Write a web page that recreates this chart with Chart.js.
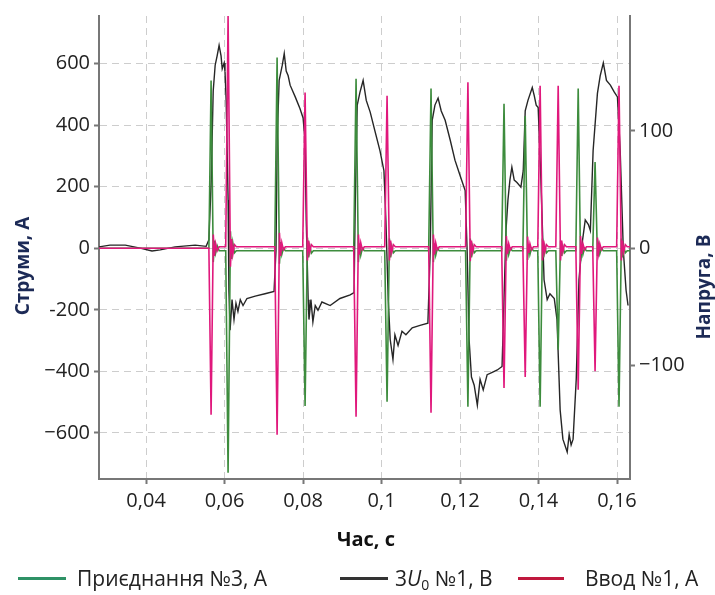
<!DOCTYPE html>
<html>
<head>
<meta charset="utf-8">
<script src="https://cdn.jsdelivr.net/npm/chart.js@4.4.1/dist/chart.umd.min.js"></script>
<style>
  html, body { margin: 0; padding: 0; background: #fff; }
  #wrap { position: relative; width: 715px; height: 595px; overflow: hidden; }
  canvas { position: absolute; left: 0; top: 0; }
  .lg-line { position: absolute; height: 3px; }
  .lg-text { position: absolute; font-family: "Open Sans", sans-serif; font-size: 21px; color: #222; line-height: 24px; white-space: nowrap; }
  .lg-text sub { font-size: 14px; vertical-align: -4px; line-height: 0; }
</style>
</head>
<body>
<div id="wrap">
  <canvas id="c" width="715" height="595"></canvas>
  <div class="lg-line" style="left:18px;top:577px;width:48px;background:#2f9266;"></div>
  <div class="lg-text" style="left:77px;top:566px;">Приєднання №3, А</div>
  <div class="lg-line" style="left:340px;top:577px;width:48px;background:#333;"></div>
  <div class="lg-text" style="left:395px;top:566px;">3<i>U</i><sub>0</sub> №1, В</div>
  <div class="lg-line" style="left:518px;top:577px;width:46px;background:#c0183e;"></div>
  <div class="lg-text" style="left:585px;top:566px;">Ввод №1, А</div>
</div>
<script>
// ---- data (time in s) ----
const seriesNames = ['Ввод №1, А', 'Приєднання №3, А', '3U₀ №1, В'];
const xTickValues = [0.04, 0.06, 0.08, 0.10, 0.12, 0.14, 0.16];
const xTickLabels = ['0,04', '0,06', '0,08', '0,1', '0,12', '0,14', '0,16'];
const leftTickValues = [-600, -400, -200, 0, 200, 400, 600];
const leftTickLabels = ['−600', '−400', '-200', '0', '200', '400', '600'];
const rightTickValues = [-100, 0, 100];
const rightTickLabels = ['−100', '0', '100'];

// currents share one time base
const currentTime = [
  0.028, 0.0550,
  0.05600, 0.05656, 0.05712, 0.05742, 0.05772, 0.05812, 0.05862,
  0.06029, 0.06089, 0.06149, 0.06179, 0.06209, 0.06249, 0.06299,
  0.07278, 0.07338, 0.07398, 0.07428, 0.07458, 0.07498, 0.07548,
  0.07991, 0.08051, 0.08111, 0.08141, 0.08171, 0.08211, 0.08261,
  0.0929, 0.0935, 0.0941, 0.0944, 0.0947, 0.0951, 0.0956,
  0.1008, 0.1014, 0.1020, 0.1023, 0.1026, 0.1030, 0.1035,
  0.1120, 0.1126, 0.1132, 0.1135, 0.1138, 0.1142, 0.1147,
  0.1214, 0.1220, 0.1226, 0.1229, 0.1232, 0.1236, 0.1241,
  0.1306, 0.1312, 0.1318, 0.1321, 0.1324, 0.1328, 0.1333,
  0.1360, 0.1366, 0.1372, 0.1375, 0.1378, 0.1382, 0.1387,
  0.1398, 0.1404, 0.1410, 0.1413, 0.1416, 0.1420, 0.1425,
  0.1444, 0.1450, 0.1456, 0.1459, 0.1462, 0.1466, 0.1471,
  0.1495, 0.1501, 0.1507, 0.1510, 0.1513, 0.1517, 0.1522,
  0.1538, 0.1544, 0.1550, 0.1553, 0.1556, 0.1560, 0.1565,
  0.1599, 0.1605, 0.1611, 0.1614, 0.1617, 0.1621, 0.1626,
  0.1633
];
const inputCurrent = [   // Ввод №1, А
  0, 0,
  0, -541, 45, -25, 15, -8, 5,
  5, 755, -60, 30, -20, 12, 5,
  5, -606, 50, -25, 18, -5, 5,
  5, 506, -40, 25, -12, 12, 5,
  5, -548, 45, -20, 18, -5, 5,
  5, 496, -40, 25, -12, 12, 5,
  5, -535, 45, -20, 18, -5, 5,
  5, 540, -42, 25, -12, 12, 5,
  5, -454, 40, -18, 15, -5, 5,
  5, -418, 38, -15, 15, -5, 5,
  5, 528, -40, 25, -12, 12, 5,
  5, 528, -40, 25, -12, 12, 5,
  5, -460, 40, -18, 15, -5, 5,
  5, -400, 35, -15, 15, -5, 5,
  5, 528, -40, 25, -12, 12, 5,
  5
];
const feederCurrent = [  // Приєднання №3, А
  0, 0,
  0, 545, -45, 25, -15, 8, -8,
  -8, -730, 55, -35, 18, -15, -8,
  -8, 620, -50, 20, -20, 0, -8,
  -8, -513, 35, -30, 8, -16, -8,
  -8, 551, -45, 15, -22, 0, -8,
  -8, -499, 32, -30, 6, -15, -8,
  -8, 519, -45, 15, -22, 0, -8,
  -8, -515, 32, -30, 6, -15, -8,
  -8, 470, -40, 12, -20, 0, -8,
  -8, 430, -38, 12, -20, 0, -8,
  -8, -515, 32, -30, 6, -15, -8,
  -8, -330, 25, -25, 6, -15, -8,
  -8, 519, -42, 12, -20, 0, -8,
  -8, 280, -25, 10, -18, 0, -8,
  -8, -515, 32, -30, 6, -15, -8,
  -8
];

// 3U0 voltage
const voltageTime = [
  0.0280, 0.0308, 0.0347, 0.0385, 0.0415, 0.0436, 0.0474, 0.0525, 0.0553, 0.0560,
  0.0566, 0.0571, 0.0576, 0.0581, 0.0586, 0.0591, 0.0594, 0.0599, 0.0601, 0.0604,
  0.0609, 0.0611, 0.0614, 0.0619, 0.0624, 0.0629, 0.0634, 0.0640, 0.0647, 0.0657,
  0.0678, 0.0703, 0.0726, 0.0731, 0.0734, 0.0739, 0.0747, 0.0752, 0.0757, 0.0762,
  0.0767, 0.0780, 0.0792, 0.0800, 0.0805, 0.0808, 0.0813, 0.0815, 0.0820, 0.0825,
  0.0831, 0.0838, 0.0848, 0.0869, 0.0894, 0.0920, 0.0930, 0.0933, 0.0938, 0.0945,
  0.0953, 0.0961, 0.0971, 0.0983, 0.0996, 0.1006, 0.1011, 0.1017, 0.1022, 0.1029,
  0.1034, 0.1042, 0.1052, 0.1062, 0.1078, 0.1098, 0.1118, 0.1124, 0.1129, 0.1136,
  0.1144, 0.1152, 0.1162, 0.1175, 0.1187, 0.1200, 0.1213, 0.1218, 0.1223, 0.1229,
  0.1236, 0.1244, 0.1251, 0.1259, 0.1269, 0.1282, 0.1295, 0.1307, 0.1312, 0.1317,
  0.1322, 0.1327, 0.1332, 0.1338, 0.1345, 0.1355, 0.1361, 0.1366, 0.1373, 0.1384,
  0.1389, 0.1394, 0.1399, 0.1406, 0.1414, 0.1422, 0.1429, 0.1440, 0.1447, 0.1455,
  0.1462, 0.1473, 0.1478, 0.1483, 0.1488, 0.1496, 0.1503, 0.1511, 0.1519, 0.1527,
  0.1532, 0.1539, 0.1550, 0.1557, 0.1565, 0.1573, 0.1583, 0.1593, 0.1601, 0.1608,
  0.1616, 0.1623, 0.1628
];
const voltage = [
  1, 2.5, 2.5, 0, -2.5, -1.5, 1, 2.5, 1.5, 7,
  58, 134, 156, 164, 173, 164, 153, 158, 151, 126,
  41, -36, -70, -44, -61, -47, -54, -44, -49, -43,
  -41, -39, -37, -2, 92, 143, 156, 166, 151, 147,
  139, 129, 119, 111, 92, 24, -44, -61, -44, -63,
  -49, -53, -46, -49, -43, -40, -38, 41, 122, 133,
  143, 126, 116, 100, 83, 66, 24, -44, -78, -95,
  -74, -83, -71, -74, -68, -66, -64, -2, 109, 122,
  128, 117, 109, 92, 75, 62, 49, -2, -78, -110,
  -117, -134, -112, -121, -108, -106, -104, -101, -44, 15,
  41, 58, 69, 58, 56, 52, 66, 117, 126, 137,
  130, 122, 120, 58, -27, -44, -39, -43, -61, -138,
  -163, -174, -159, -168, -163, -112, -27, 4, 24, 20,
  15, 83, 132, 147, 158, 143, 139, 133, 129, 83,
  -2, -36, -49
];

function toPoints(ts, vs) { return ts.map((t, i) => ({ x: t, y: vs[i] })); }

const titleColor = '#1c2a56';
const tickFont = { family: 'Open Sans', size: 20, weight: '400' };

const axisTitles = {
  id: 'axisTitles',
  afterDraw(chart) {
    const ctx = chart.ctx;
    ctx.save();
    ctx.font = 'bold 19px "Open Sans"';
    ctx.textAlign = 'center';
    ctx.textBaseline = 'middle';
    ctx.fillStyle = titleColor;
    ctx.save(); ctx.translate(24, 266); ctx.rotate(-Math.PI / 2); ctx.fillText('Струми, А', 0, 0); ctx.restore();
    ctx.save(); ctx.translate(705, 287); ctx.rotate(-Math.PI / 2); ctx.fillText('Напруга, В', 0, 0); ctx.restore();
    ctx.font = 'bold 20px "Open Sans"';
    ctx.fillStyle = '#111';
    ctx.fillText('Час, с', 366, 540);
    ctx.restore();
  }
};

const gridDash = [7, 5];

new Chart(document.getElementById('c'), {
  type: 'line',
  data: {
    datasets: [
      { label: seriesNames[0], data: toPoints(currentTime, inputCurrent), yAxisID: 'y', borderColor: '#e0187c', borderWidth: 1.6 },
      { label: seriesNames[1], data: toPoints(currentTime, feederCurrent), yAxisID: 'y', borderColor: '#3d8c3d', borderWidth: 1.6 },
      { label: seriesNames[2], data: toPoints(voltageTime, voltage), yAxisID: 'y2', borderColor: '#262626', borderWidth: 1.4 }
    ]
  },
  options: {
    responsive: false,
    animation: false,
    devicePixelRatio: 1,
    parsing: false,
    elements: { point: { radius: 0 }, line: { tension: 0 } },
    layout: { padding: { top: 15, bottom: 40, left: 0, right: 0 } },
    plugins: { legend: { display: false }, tooltip: { enabled: false } },
    scales: {
      x: {
        type: 'linear', min: 0.028, max: 0.1633,
        afterBuildTicks(s) { s.ticks = xTickValues.map(v => ({ value: v })); },
        afterFit(s) { s.height = 76; },
        ticks: {
          font: tickFont, color: '#222', padding: 5, maxRotation: 0,
          callback(v) { const i = xTickValues.findIndex(t => Math.abs(t - v) < 1e-9); return i >= 0 ? xTickLabels[i] : ''; }
        },
        grid: { color: '#cdcdcd', lineWidth: 1, tickLength: 5, tickColor: '#777', tickWidth: 2, drawTicks: true, borderDash: gridDash },
        border: { display: true, color: '#777', width: 2, dash: gridDash }
      },
      y: {
        position: 'left', min: -750, max: 755,
        afterBuildTicks(s) { s.ticks = leftTickValues.map(v => ({ value: v })); },
        afterFit(s) { s.width = 99; },
        ticks: {
          font: tickFont, color: '#222', padding: 4,
          callback(v) { const i = leftTickValues.indexOf(v); return i >= 0 ? leftTickLabels[i] : ''; }
        },
        grid: { color: '#cdcdcd', lineWidth: 1, tickLength: 5, tickColor: '#777', tickWidth: 2, borderDash: gridDash },
        border: { display: true, color: '#777', width: 2, dash: gridDash }
      },
      y2: {
        position: 'right', min: -197, max: 198,
        afterBuildTicks(s) { s.ticks = rightTickValues.map(v => ({ value: v })); },
        afterFit(s) { s.width = 85; },
        ticks: {
          font: tickFont, color: '#222', padding: 4,
          callback(v) { const i = rightTickValues.indexOf(v); return i >= 0 ? rightTickLabels[i] : ''; }
        },
        grid: { drawOnChartArea: false, tickLength: 5, tickColor: '#777', tickWidth: 2 },
        border: { display: true, color: '#777', width: 2 }
      }
    }
  },
  plugins: [axisTitles]
});
</script>
</body>
</html>
